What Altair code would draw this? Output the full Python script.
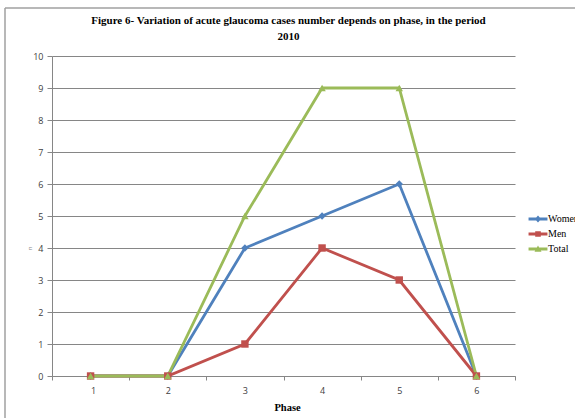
import altair as alt
import pandas as pd

phases = [1, 2, 3, 4, 5, 6]
women = [0, 0, 4, 5, 6, 0]
men = [0, 0, 1, 4, 3, 0]
total = [0, 0, 5, 9, 9, 0]
series_names = ["Women", "Men", "Total"]
colors = ["#4F81BD", "#C0504D", "#9BBB59"]
plot_shapes = ["diamond", "square", "triangle-up"]
legend_shapes = [
    "M-1.35,-0.2H1.35V0.2H-1.35Z M0,-0.5L0.45,0L0,0.5L-0.45,0Z",
    "M-1.35,-0.2H1.35V0.2H-1.35Z M-0.4,-0.4H0.4V0.4H-0.4Z",
    "M-1.35,-0.2H1.35V0.2H-1.35Z M0,-0.5L0.5,0.4L-0.5,0.4Z",
]

rows = []
for name, vals in zip(series_names, [women, men, total]):
    for p, v in zip(phases, vals):
        rows.append({"phase": p, "n": v, "series": name})
df = pd.DataFrame(rows)

GRID = "#868686"
step = 463 / 6

x_enc = alt.X(
    "phase:Q",
    scale=alt.Scale(domain=[0.5, 6.5], nice=False, zero=False),
    axis=alt.Axis(
        values=[0.5, 1.5, 2.5, 3.5, 4.5, 5.5, 6.5],
        labelExpr="datum.value < 6 ? format(datum.value + 0.5, 'd') : ''",
        labelOffset=step / 2,
        title="Phase",
        grid=False,
        tickSize=4,
        tickColor=GRID,
        domainColor=GRID,
        labelFont="Open Sans",
        labelFontSize=9,
        labelColor="#404040",
        labelPadding=6,
        titleFont="Liberation Serif",
        titleFontSize=10.5,
        titleFontWeight="bold",
        titlePadding=7,
        titleX=235,
    ),
)
y_enc = alt.Y(
    "n:Q",
    scale=alt.Scale(domain=[0, 10], nice=False),
    axis=alt.Axis(
        values=list(range(0, 11)),
        title="n",
        grid=True,
        gridColor=GRID,
        gridWidth=1.2,
        tickSize=5,
        tickColor=GRID,
        domainColor=GRID,
        labelFont="Open Sans",
        labelFontSize=9,
        labelColor="#404040",
        labelPadding=4,
        titleFont="Open Sans",
        titleFontSize=6,
        titleFontWeight="normal",
        titleColor="#888888",
        titleX=-23,
        titleY=192,
        titleBaseline="middle",
    ),
)


def cscale():
    return alt.Scale(domain=series_names, range=colors)


lines = alt.Chart(df).mark_line(strokeWidth=2.8).encode(
    x=x_enc,
    y=y_enc,
    color=alt.Color("series:N", scale=cscale(), legend=None),
    detail="series:N",
)

points = alt.Chart(df).mark_point(filled=True, size=55, opacity=1).encode(
    x=x_enc,
    y=y_enc,
    color=alt.Color("series:N", scale=cscale(), legend=None),
    shape=alt.Shape("series:N", scale=alt.Scale(domain=series_names, range=plot_shapes), legend=None),
)

legend_layer = alt.Chart(df).transform_filter("false").mark_point(filled=True, opacity=1).encode(
    x=x_enc,
    y=y_enc,
    color=alt.Color("series:N", scale=cscale(), legend=alt.Legend(title=None)),
    shape=alt.Shape(
        "series:N",
        scale=alt.Scale(domain=series_names, range=legend_shapes),
        legend=alt.Legend(title=None),
    ),
)

frame = alt.Chart(pd.DataFrame({"a": [0]})).mark_rule(color="#A0A0A0", strokeWidth=1.5).encode(
    x=alt.value(-47), y=alt.value(-48), y2=alt.value(380)
)
frame_top = alt.Chart(pd.DataFrame({"a": [0]})).mark_rule(color="#A0A0A0", strokeWidth=1.5).encode(
    x=alt.value(-47), x2=alt.value(600), y=alt.value(-48)
)

chart = (
    alt.layer(frame, frame_top, lines, points, legend_layer)
    .resolve_scale(shape="independent", color="independent")
    .properties(
        width=463,
        height=320,
        padding={"left": 52, "top": 56, "right": 60, "bottom": 42},
        autosize=alt.AutoSizeParams(type="none"),
        title=alt.Title(
            ["Figure 6- Variation of acute glaucoma cases number depends on phase, in the period", "2010"],
            font="Liberation Serif",
            fontSize=11,
            fontWeight="bold",
            color="#000000",
            anchor="middle",
            dx=5,
            offset=-35,
            lineHeight=16,
        ),
    )
    .configure_view(stroke=None)
    .configure_legend(
        orient="none",
        legendX=479,
        legendY=156,
        symbolSize=196,
        symbolStrokeWidth=0,
        labelFont="Liberation Serif",
        labelFontSize=10,
        labelColor="#000000",
        labelOffset=3,
        rowPadding=3,
    )
)

chart.save("out.html", embed_options={"renderer": "svg", "actions": False})
